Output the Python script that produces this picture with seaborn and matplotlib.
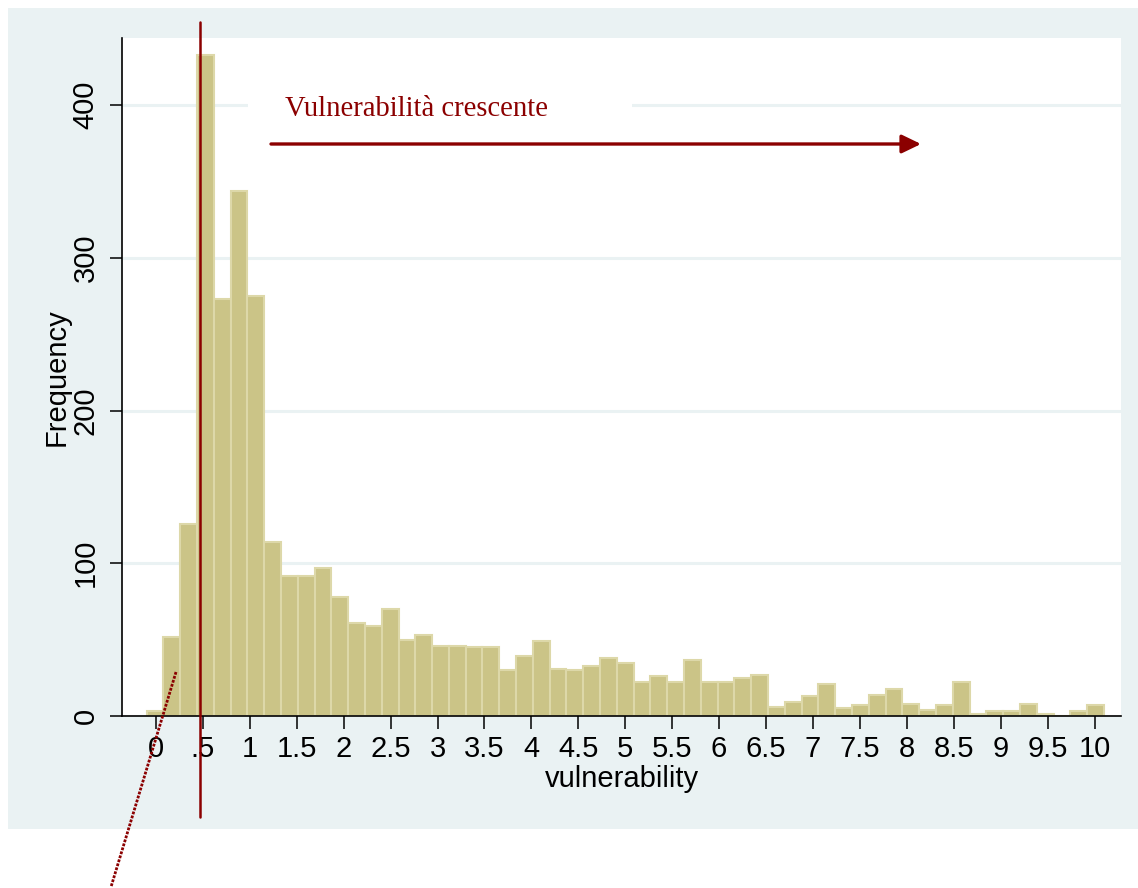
import numpy as np
import pandas as pd
import matplotlib
matplotlib.use("Agg")
import matplotlib.pyplot as plt
import matplotlib.transforms as mtransforms
from matplotlib.patches import Rectangle
from matplotlib.lines import Line2D
import seaborn as sns

# ---- data ----
bin_lo = -0.1
bin_hi = 10.1
n_bins = 57
counts = [3, 52, 126, 433, 273, 344, 275, 114, 92, 92, 97, 78, 61, 59, 70, 50,
          53, 46, 46, 45, 45, 30, 39, 49, 31, 30, 33, 38, 35, 22, 26, 22, 37,
          22, 22, 25, 27, 6, 9, 13, 21, 5, 7, 14, 18, 8, 4, 7, 22, 1, 3, 3, 8,
          1, 0, 3, 7]
x_ticks = [0, 0.5, 1, 1.5, 2, 2.5, 3, 3.5, 4, 4.5, 5, 5.5, 6, 6.5, 7, 7.5, 8,
           8.5, 9, 9.5, 10]
x_tick_labels = ["0", ".5", "1", "1.5", "2", "2.5", "3", "3.5", "4", "4.5",
                 "5", "5.5", "6", "6.5", "7", "7.5", "8", "8.5", "9", "9.5", "10"]
y_ticks = [0, 100, 200, 300, 400]
y_tick_labels = ["0", "100", "200", "300", "400"]
threshold = 0.47
annot_text = "Vulnerabilità crescente"
x_label = "vulnerability"
y_label = "Frequency"

edges = np.linspace(bin_lo, bin_hi, n_bins + 1)
centers = (edges[:-1] + edges[1:]) / 2
df = pd.DataFrame({"vulnerability": centers, "count": counts})

# ---- style ----
sns.set_theme(style="white")
plt.rcParams["font.family"] = ["Liberation Sans", "DejaVu Sans"]
plt.rcParams["text.color"] = "black"
plt.rcParams["axes.labelcolor"] = "black"
plt.rcParams["xtick.color"] = "black"
plt.rcParams["ytick.color"] = "black"

W, H = 1138, 888
fig = plt.figure(figsize=(W / 100, H / 100), dpi=100)
fig.patch.set_facecolor("white")

panel_col = "#EAF2F3"
red = "#8B0000"
fs = 21

# outer light panel
fig.patches.append(Rectangle((8 / W, 1 - 829 / H), 1.0, (829 - 8) / H,
                             transform=fig.transFigure, facecolor=panel_col,
                             edgecolor="none", zorder=-10))

ax = fig.add_axes([122 / W, 1 - 716 / H, (1121 - 122) / W, (716 - 38) / H])
ax.set_facecolor("white")

sns.histplot(data=df, x="vulnerability", weights="count", bins=n_bins,
             binrange=(bin_lo, bin_hi), ax=ax,
             color="#CBC487", edgecolor="#DDD8A9", linewidth=1.5, alpha=1.0,
             zorder=2)

ax.set_xlim(-0.362, 10.282)
ax.set_ylim(0, 444)

ax.set_axisbelow(True)
ax.yaxis.grid(True, color=panel_col, linewidth=2.2)
ax.xaxis.grid(False)

for s in ["top", "right"]:
    ax.spines[s].set_visible(False)
for s in ["left", "bottom"]:
    ax.spines[s].set_color("black")
    ax.spines[s].set_linewidth(1.2)

ax.set_xticks(x_ticks)
ax.set_xticklabels(x_tick_labels, fontsize=fs)
ax.set_yticks(y_ticks)
ax.set_yticklabels(y_tick_labels, fontsize=fs, rotation=90, va="center")
ax.tick_params(axis="both", which="major", direction="out", length=9,
               width=1.1, color="black", labelcolor="black",
               bottom=True, left=True)
ax.tick_params(axis="x", pad=5)
ax.tick_params(axis="y", pad=7)

ax.set_xlabel(x_label, fontsize=fs, va="center", color="black")
ax.xaxis.set_label_coords(0.5, (716 - 779) / (716 - 38))
ax.set_ylabel(y_label, fontsize=fs, va="center", color="black")
ax.yaxis.set_label_coords((57 - 122) / (1121 - 122), 0.5)

# white box behind the annotation text (interrupts gridline)
ax.add_patch(Rectangle(((248 - 122) / (1121 - 122), 1 - (128 - 38) / (716 - 38)),
                       (632 - 248) / (1121 - 122), (128 - 86) / (716 - 38),
                       transform=ax.transAxes, facecolor="white",
                       edgecolor="none", zorder=1))

# annotation text
fig.text(285 / W, 1 - 116.5 / H, annot_text, fontsize=20.6,
         family=["Liberation Serif", "DejaVu Serif"], color=red,
         ha="left", va="baseline", zorder=20)

# arrow
ax.annotate("", xy=(921 / W, 1 - 144 / H), xytext=(271 / W, 1 - 144 / H),
            xycoords="figure fraction", textcoords="figure fraction",
            arrowprops=dict(arrowstyle="-|>,head_length=0.58,head_width=0.28",
                            color=red, lw=2.4, mutation_scale=20,
                            shrinkA=0, shrinkB=0),
            annotation_clip=False, zorder=20)

# vertical threshold line, spanning beyond the plot
blend = mtransforms.blended_transform_factory(ax.transData, fig.transFigure)
ax.add_line(Line2D([threshold, threshold], [1 - 22 / H, 1 - 817 / H],
                   transform=blend, color=red, lw=1.8, clip_on=False,
                   zorder=20))

# dotted pointer line
fig.add_artist(Line2D([176 / W, 111 / W], [1 - 672 / H, 1 - 887 / H],
                      transform=fig.transFigure, color=red, lw=2.0,
                      linestyle=(0, (1.0, 0.5)), zorder=20))

fig.savefig("out.png", dpi=100, facecolor=fig.get_facecolor())
